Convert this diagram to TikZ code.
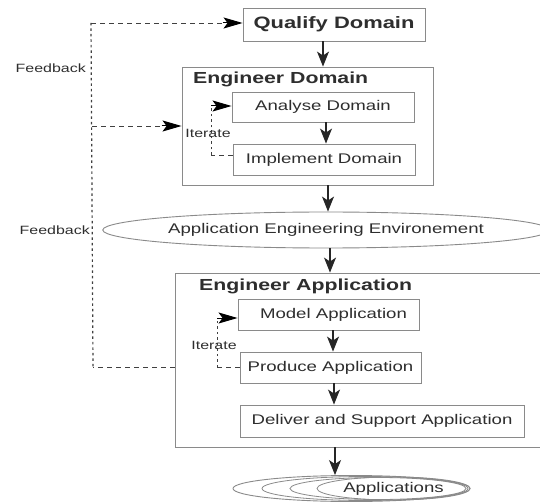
\documentclass[tikz,border=0pt]{standalone}
\usepackage{fontspec}
\setmainfont{Liberation Sans}[FakeStretch=1.33]
\usetikzlibrary{arrows.meta,shapes.geometric}
\definecolor{txt}{HTML}{2E2E2E}
\definecolor{boxc}{HTML}{8A8A8A}
\tikzset{
  boxn/.style={draw=boxc,line width=0.9pt,rectangle,inner sep=0pt,text=txt,font=\fontsize{14}{16}\selectfont},
  bigbox/.style={draw=boxc,line width=0.9pt,rectangle,inner sep=0pt},
  title/.style={anchor=west,inner sep=0pt,text=txt,font=\fontsize{16}{18}\selectfont\bfseries},
  lbl/.style={inner sep=0pt,text=txt,font=\fontsize{12}{14}\selectfont},
  varr/.style={-{Stealth[length=15pt,width=12pt,inset=4pt]},line width=1.1pt,black!85},
  harr/.style={solid,-{Stealth[length=19pt,width=11pt,inset=4pt]},line width=1pt,black},
  hdash/.style={dash pattern=on 5pt off 4pt,line width=0.9pt,black!75},
  vdash/.style={dash pattern=on 2.5pt off 3pt,line width=1.2pt,black!75},
  ell/.style={draw=boxc,line width=0.9pt,ellipse,inner sep=0pt,text=txt,font=\fontsize{14}{16}\selectfont}
}
\begin{document}
\begin{tikzpicture}[x=1pt,y=-1pt]
\useasboundingbox (0,0) rectangle (540,502);
\clip (0,0) rectangle (540,502);
\fill[white] (0,0) rectangle (540,502);
% boxes
\node[boxn,font=\fontsize{16.5}{18}\selectfont\bfseries,minimum width=182pt,minimum height=33pt] (qualify) at (334,24.5) {Qualify Domain};
\node[bigbox,minimum width=251pt,minimum height=118pt] (engdom) at (307.5,126) {};
\node[title] (engdomt) at (193,79) {Engineer Domain};
\node[boxn,minimum width=182pt,minimum height=30pt] (analyse) at (323,107) {Analyse Domain};
\node[boxn,minimum width=182pt,minimum height=31pt] (implement) at (324,159.5) {Implement Domain};
\node[ell,minimum width=386pt,minimum height=36pt] (appenv) at (326,230) {Application Engineering Environement};
\node[bigbox,minimum width=367pt,minimum height=174pt] (engapp) at (358.5,360) {};
\node[title] (engappt) at (199,286) {Engineer Application};
\node[boxn,minimum width=181pt,minimum height=31pt] (model) at (328.5,314.5) {\hspace*{10pt}Model Application};
\node[boxn,minimum width=181pt,minimum height=31pt] (produce) at (330.5,367.5) {Produce Application};
\node[boxn,minimum width=284pt,minimum height=32pt] (deliver) at (382,421) {Deliver and Support Application};
% applications stack
\node[draw=boxc,line width=0.9pt,ellipse,minimum width=237pt,minimum height=26pt,inner sep=0pt] (apps) at (351.5,488.5) {};
\node[draw=boxc,line width=0.8pt,ellipse,minimum width=206pt,minimum height=24pt,inner sep=0pt] (apps2) at (365,488.5) {};
\node[draw=boxc,line width=0.8pt,ellipse,minimum width=176pt,minimum height=22pt,inner sep=0pt] (apps3) at (378,488.5) {};
\node[ell,line width=0.8pt,minimum width=153pt,minimum height=23pt] (apps4) at (393.5,488.5) {Applications};
% main arrows
\draw[varr] (qualify.south -| 323,0) -- (engdom.north -| 323,0);
\draw[varr] (analyse.south -| 326,0) -- (implement.north -| 326,0);
\draw[varr] (engdom.south -| 328,0) -- (appenv.north -| 328,0);
\draw[varr] (appenv.south -| 330,0) -- (engapp.north -| 330,0);
\draw[varr] (model.south -| 333,0) -- (produce.north -| 333,0);
\draw[varr] (produce.south -| 334,0) -- (deliver.north -| 334,0);
\draw[varr] (engapp.south -| 335,0) -- (apps.north -| 335,0);
% feedback
\coordinate (fbtop) at (91,23);
\coordinate (fbmid) at (92,126);
\coordinate (fbbot) at (93,367);
\draw[vdash] (fbtop) -- (fbbot);
\draw[hdash] (fbtop) -- ([xshift=-18pt]qualify.west |- fbtop);
\draw[harr] ([xshift=-20pt]qualify.west |- fbtop) -- (qualify.west |- fbtop);
\draw[hdash] (fbmid) -- ([xshift=-18pt]engdom.west |- fbmid);
\draw[harr] ([xshift=-20pt]engdom.west |- fbmid) -- (engdom.west |- fbmid);
\draw[hdash] (engapp.west |- fbbot) -- (fbbot);
\node[lbl,anchor=east] (fb1) at (86,68) {Feedback};
\node[lbl,anchor=east] (fb2) at (90,230) {Feedback};
% iterate loops
\coordinate (it1a) at (211,155);
\coordinate (it1b) at (211,106);
\draw[hdash] ([yshift=4.5pt]implement.west) -- (it1a);
\draw[vdash,line width=1pt] (it1a) -- (it1b);
\draw[harr] (it1b) -- (analyse.west |- it1b);
\node[lbl] (it1) at (208,133) {Iterate};
\coordinate (it2a) at (217,367);
\coordinate (it2b) at (217,318);
\draw[hdash] (produce.west |- it2a) -- (it2a);
\draw[vdash,line width=1pt] (it2a) -- (it2b);
\draw[harr] (it2b) -- (model.west |- it2b);
\node[lbl] (it2) at (214,345) {Iterate};
\end{tikzpicture}
\end{document}
